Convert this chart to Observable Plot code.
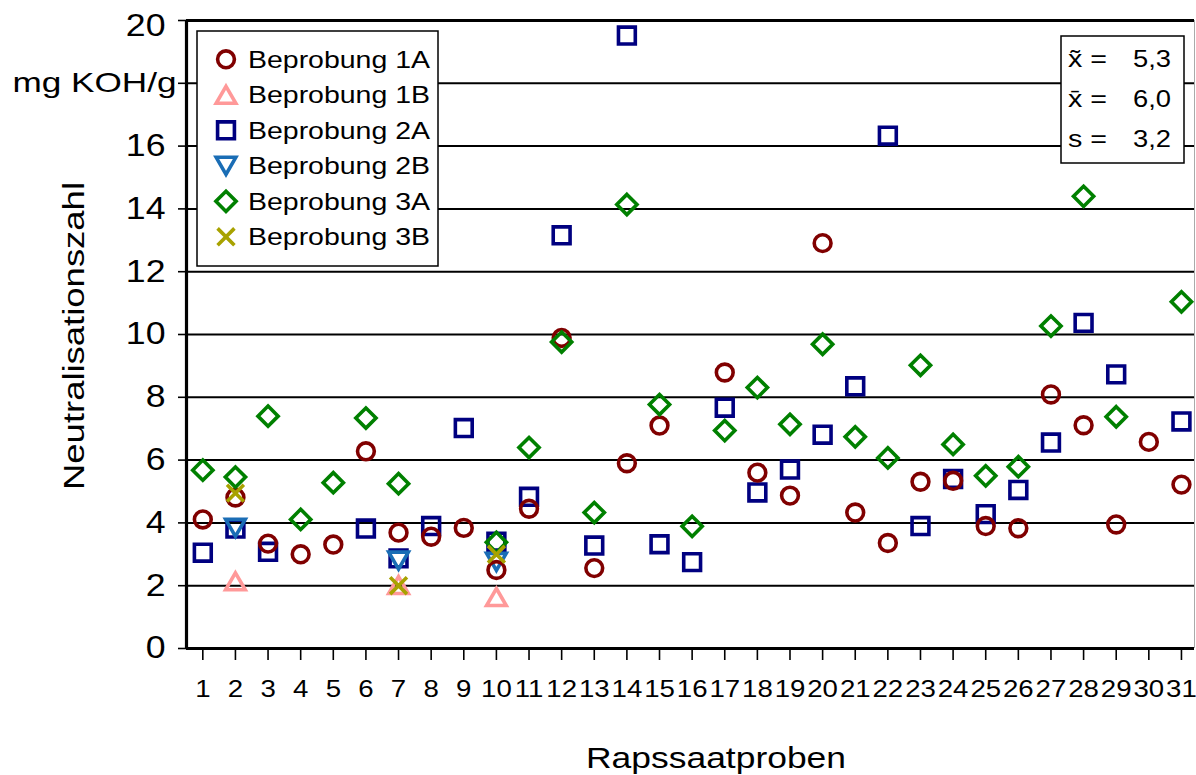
<!DOCTYPE html>
<html><head><meta charset="utf-8">
<script src="https://cdn.jsdelivr.net/npm/d3@7"></script>
<script src="https://cdn.jsdelivr.net/npm/@observablehq/plot@0.6"></script>
<style>body{margin:0;background:#fff;} svg{display:block;}</style>
</head><body><div id="chart"></div>
<script>
// ---- data ----
const categories = [1,2,3,4,5,6,7,8,9,10,11,12,13,14,15,16,17,18,19,20,21,22,23,24,25,26,27,28,29,30,31];
const s1A = [4.11,4.81,3.34,3.00,3.31,6.28,3.69,3.56,3.84,2.50,4.45,9.89,2.56,5.90,7.10,null,8.79,5.60,4.87,12.91,4.33,3.36,5.31,5.34,3.90,3.83,8.09,7.11,3.95,6.58,5.22];
const s1B = [null,2.05,null,null,null,null,1.93,null,null,1.55,null,null,null,null,null,null,null,null,null,null,null,null,null,null,null,null,null,null,null,null,null];
const s2A = [3.05,3.82,3.08,null,null,3.82,2.87,3.90,7.02,3.40,4.83,13.16,3.28,19.52,3.32,2.75,7.67,4.97,5.70,6.81,8.35,16.33,3.90,5.40,4.28,5.05,6.56,10.37,8.73,null,7.23];
const s2B = [null,3.93,null,null,null,null,2.89,null,null,2.85,null,null,null,null,null,null,null,null,null,null,null,null,null,null,null,null,null,null,null,null,null];
const s3A = [5.68,5.46,7.40,4.11,5.28,7.34,5.25,null,null,3.38,6.40,9.76,4.33,14.14,7.77,3.89,6.94,8.31,7.14,9.69,6.74,6.07,9.02,6.50,5.50,5.79,10.27,14.40,7.38,null,11.04];
const s3B = [null,4.95,null,null,null,null,2.00,null,null,3.00,null,null,null,null,null,null,null,null,null,null,null,null,null,null,null,null,null,null,null,null,null];
const seriesNames = ["Beprobung 1A","Beprobung 1B","Beprobung 2A","Beprobung 2B","Beprobung 3A","Beprobung 3B"];
const yTicks = [0,2,4,6,8,10,12,14,16,18,20];
const yUnitLabel = "mg KOH/g";
const xTitle = "Rapssaatproben";
const yTitle = "Neutralisationszahl";
const statLabels = ["x\u0303 =", "x\u0304 =", "s ="];
const statValues = ["5,3", "6,0", "3,2"];

// ---- styles ----
const styles = [
  {name: seriesNames[0], values: s1A, symbol: "circle",   d3sym: d3.symbolCircle,   color: "#800000", r: 8.4, rotate: 0},
  {name: seriesNames[1], values: s1B, symbol: "triangle", d3sym: d3.symbolTriangle, color: "#ff9999", r: 7.3, rotate: 0},
  {name: seriesNames[2], values: s2A, symbol: "square",   d3sym: d3.symbolSquare,   color: "#000080", r: 9.5, rotate: 0},
  {name: seriesNames[3], values: s2B, symbol: "triangle", d3sym: d3.symbolTriangle, color: "#1a6db5", r: 7.3, rotate: 180},
  {name: seriesNames[4], values: s3A, symbol: "diamond2", d3sym: d3.symbolDiamond2, color: "#008000", r: 9.1, rotate: 0},
  {name: seriesNames[5], values: s3B, symbol: "times",    d3sym: d3.symbolTimes,    color: "#a8a200", r: 7.7, rotate: 0}
];
const drawOrder = [2, 3, 0, 1, 4, 5];
const rowsOf = s => categories.map((c, i) => ({cat: c, v: s.values[i]})).filter(d => d.v != null);

const font = "'Liberation Sans', Arial, sans-serif";
const K = 1.15;
const SW = 3.6;

const plot = Plot.plot({
  width: 1196, height: 775,
  marginLeft: 186, marginRight: 2, marginTop: 20, marginBottom: 127,
  style: {fontFamily: font, background: "#fff", color: "#000"},
  x: {type: "linear", domain: [0.5, 31.4], axis: null},
  y: {domain: [0, 20], axis: null},
  marks: [
    Plot.ruleY(yTicks.filter(t => t > 0 && t < 20), {stroke: "#000", strokeWidth: 2}),
    Plot.ruleY([20], {stroke: "#000", strokeWidth: 3.2}),
    Plot.ruleX([31.4], {stroke: "#aaa", strokeWidth: 1}),
    Plot.axisY({ticks: yTicks, label: null, tickSize: 8, tickPadding: 13, fontSize: 31, strokeWidth: 1.6,
      tickFormat: d => (d === 18 || d === 20) ? "" : String(d)}),
    Plot.text([20], {y: d => d, frameAnchor: "left", dx: -21, dy: 6, textAnchor: "end", fontSize: 31, text: d => String(d)}),
    Plot.text([18], {y: d => d, frameAnchor: "left", dx: -10, textAnchor: "end", fontSize: 28, text: () => yUnitLabel, className: "unitlabel"}),
    Plot.axisX({ticks: categories, label: null, tickSize: 12, tickPadding: 19, fontSize: 24, strokeWidth: 1.6, tickFormat: d => String(d)}),
    Plot.ruleY([0], {stroke: "#000", strokeWidth: 3.2}),
    Plot.ruleX([0.5], {stroke: "#000", strokeWidth: 3.2, y1: 0, y2: 20}),
    ...drawOrder.map(k => {
      const s = styles[k];
      return Plot.dot(rowsOf(s), {x: "cat", y: "v", symbol: s.symbol, r: s.r, rotate: s.rotate,
        stroke: s.color, strokeWidth: SW, fill: "none"});
    })
  ]
});
document.getElementById("chart").appendChild(plot);

// stretch texts horizontally (reference fonts are wider)
plot.querySelectorAll("text").forEach(t => {
  const len = t.getComputedTextLength();
  if (len > 0) {
    const isUnit = t.closest(".unitlabel");
    t.setAttribute("textLength", isUnit ? 164 : len * K);
    t.setAttribute("lengthAdjust", "spacingAndGlyphs");
  }
});

const svg = d3.select(plot);
// axis titles
svg.append("text").attr("x", 716).attr("y", 768).attr("text-anchor", "middle")
  .attr("font-family", font).attr("font-size", 30).attr("textLength", 260).attr("lengthAdjust", "spacingAndGlyphs")
  .text(xTitle);
svg.append("text").attr("transform", "translate(84,336) rotate(-90)").attr("text-anchor", "middle")
  .attr("font-family", font).attr("font-size", 29).attr("textLength", 308).attr("lengthAdjust", "spacingAndGlyphs")
  .text(yTitle);

// legend
const lg = svg.append("g").attr("text-anchor", "start");
lg.append("rect").attr("x", 197).attr("y", 31).attr("width", 241).attr("height", 235)
  .attr("fill", "#fff").attr("stroke", "#000").attr("stroke-width", 1.5);
styles.forEach((s, i) => {
  const cy = 59.3 + i * 35.5;
  const size = Math.PI * s.r * s.r;
  let off = 0;
  if (s.d3sym === d3.symbolTriangle) {
    const yy = Math.sqrt(size / (Math.sqrt(3) * 3));
    off = s.rotate ? -yy / 2 : yy / 2;
  }
  lg.append("path").attr("d", d3.symbol(s.d3sym, size)())
    .attr("transform", `translate(226,${cy + off}) rotate(${s.rotate})`)
    .attr("fill", "none").attr("stroke", s.color).attr("stroke-width", SW);
  lg.append("text").attr("x", 248).attr("y", cy + 8.5).attr("text-anchor", "start")
    .attr("font-family", font).attr("font-size", 24.5).attr("textLength", 182).attr("lengthAdjust", "spacingAndGlyphs")
    .text(s.name);
});

// stats box
const sb = svg.append("g");
sb.append("rect").attr("x", 1061).attr("y", 36).attr("width", 123).attr("height", 127)
  .attr("fill", "#fff").attr("stroke", "#000").attr("stroke-width", 1.5);
statLabels.forEach((l, i) => {
  const by = 67 + i * 40;
  sb.append("text").attr("x", 1068).attr("y", by).attr("text-anchor", "start").attr("font-family", font).attr("font-size", 24)
    .attr("textLength", 39).attr("lengthAdjust", "spacingAndGlyphs").text(l);
  sb.append("text").attr("x", 1171).attr("y", by).attr("text-anchor", "end").attr("font-family", font).attr("font-size", 24)
    .attr("textLength", 38).attr("lengthAdjust", "spacingAndGlyphs").text(statValues[i]);
});
</script>
</body></html>
